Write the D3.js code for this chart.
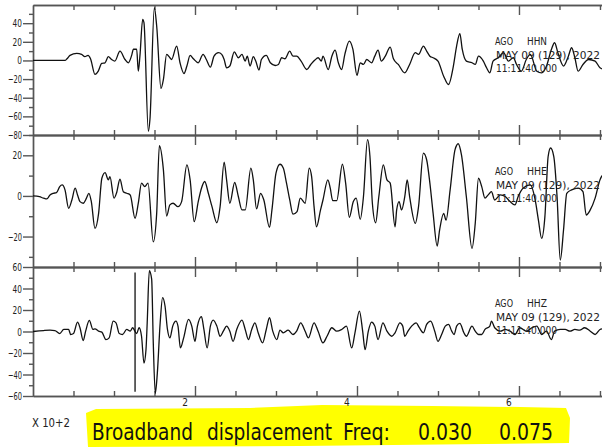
<!DOCTYPE html>
<html>
<head>
<meta charset="utf-8">
<script src="https://cdn.jsdelivr.net/npm/d3@7"></script>
<style>
body { margin: 0; background: #fff; }
svg { display: block; }
text { font-family: 'Liberation Sans Narrow', 'DejaVu Sans Condensed', 'Liberation Sans', sans-serif; }
</style>
</head>
<body>
<svg width="602" height="448"></svg>
<script>
// seismogram samples: [time (x100 s), amplitude]
var hhn = [[0,0],[0.395,0],[0.42,1.8],[0.457,5.4],[0.54,7.5],[0.60,6.5],[0.64,4],[0.68,5.4],[0.71,1.8],[0.765,-15],[0.806,-11.5],[0.848,-3.2],[0.889,-2.5],[0.93,4],[0.97,1],[1.01,-0.7],[1.074,10],[1.136,1],[1.177,-2.5],[1.218,5.4],[1.24,12],[1.28,12],[1.30,-11.5],[1.32,4.6],[1.354,44],[1.37,40.5],[1.424,-76],[1.444,-63],[1.498,56.6],[1.527,37],[1.58,-30],[1.61,-20.4],[1.65,6.5],[1.69,2.9],[1.71,1],[1.774,15.4],[1.815,-2.5],[1.864,-14],[1.90,-6],[1.94,5.4],[1.98,1.8],[2.04,-2.5],[2.10,6.5],[2.14,1],[2.19,-7.2],[2.235,4.6],[2.29,8.3],[2.33,6.5],[2.36,1],[2.39,-7.9],[2.43,-6],[2.485,9.3],[2.535,2.9],[2.58,6.5],[2.62,-0.7],[2.645,4.6],[2.68,-6],[2.72,4],[2.75,-0.7],[2.79,-10.4],[2.82,1],[2.88,5.4],[2.93,-2.5],[2.99,-5.4],[3.03,-4.3],[3.07,2.9],[3.11,1.8],[3.17,10],[3.21,4.6],[3.255,4.6],[3.31,-0.7],[3.38,-9.7],[3.43,-4.3],[3.48,0.4],[3.52,2.9],[3.56,-0.7],[3.58,4.6],[3.645,-9.7],[3.69,4.6],[3.73,11],[3.77,-2.5],[3.81,-9.7],[3.85,6.5],[3.905,20.8],[3.95,11.8],[4.00,-16],[4.04,-2.5],[4.08,-4.3],[4.12,1],[4.18,-2.5],[4.22,4.6],[4.26,11],[4.30,-0.7],[4.35,4.6],[4.41,14.3],[4.45,1.8],[4.51,-4.3],[4.59,-13.3],[4.65,-4.3],[4.72,8.3],[4.76,6.5],[4.82,15.4],[4.86,10],[4.90,4.6],[4.94,2.9],[5.00,-0.7],[5.07,-16.9],[5.13,-25.8],[5.19,-6],[5.23,15.4],[5.27,28.7],[5.30,11.8],[5.35,-0.7],[5.42,-2.5],[5.46,-4.3],[5.50,4.6],[5.56,-0.7],[5.60,-7.9],[5.64,-13.3],[5.68,-0.7],[5.745,2.9],[5.81,8.3],[5.87,-0.7],[5.93,2.9],[5.97,-4.3],[6.03,-11.5],[6.09,1],[6.14,6.5],[6.22,-11.5],[6.28,-13.3],[6.34,-6],[6.40,11.8],[6.44,19],[6.48,8.3],[6.55,-6],[6.61,4.6],[6.65,13.6],[6.69,2.9],[6.73,-11.5],[6.79,-4.3],[6.86,1],[6.94,-0.7],[7.00,-7.9],[7.025,-9]];

var hhe = [[0,0],[0.08,-0.4],[0.13,-1.1],[0.17,-1.5],[0.21,0.5],[0.25,1.3],[0.29,1.6],[0.33,4.6],[0.36,5.4],[0.395,3],[0.44,-6.1],[0.48,-2],[0.52,3.8],[0.55,0.5],[0.58,-2.8],[0.62,-3.6],[0.66,-1.1],[0.69,1.3],[0.72,-2.8],[0.765,-16],[0.81,-8.6],[0.85,8.7],[0.89,11.5],[0.93,7.9],[0.95,9.5],[1.00,-1.1],[1.03,1.3],[1.074,8.2],[1.115,2.1],[1.157,1.3],[1.20,0.5],[1.26,-11],[1.30,-3.6],[1.34,6.3],[1.38,4.6],[1.42,6.3],[1.485,-22.6],[1.527,-8.6],[1.56,24.7],[1.61,12.8],[1.65,-9.9],[1.69,-4.4],[1.73,-3.6],[1.79,-5.3],[1.835,-2.8],[1.90,15.3],[1.94,7.9],[1.99,-12.7],[2.04,-2.8],[2.08,3.8],[2.12,7.1],[2.165,1.3],[2.21,-5.3],[2.27,-13.2],[2.31,-5.3],[2.36,16.6],[2.39,7.9],[2.43,-3.6],[2.49,6.6],[2.535,-0.3],[2.58,-6.9],[2.62,-6.9],[2.69,13.7],[2.72,7.9],[2.76,-6.4],[2.81,1.3],[2.85,-2],[2.92,-15.5],[2.95,-6.9],[3.00,11.2],[3.05,15.6],[3.09,13.7],[3.13,6.3],[3.17,-2],[3.21,-9],[3.26,-7.7],[3.30,-1.1],[3.36,-3.6],[3.41,13.7],[3.44,9.5],[3.47,-5.3],[3.50,-15.2],[3.55,-6.9],[3.58,-2],[3.64,7.9],[3.67,3.8],[3.70,-2.3],[3.75,-2.3],[3.82,15.6],[3.86,6.3],[3.905,-10.5],[3.955,-2.8],[3.99,-1.1],[4.04,-11.5],[4.08,-0.3],[4.13,27.7],[4.16,19.4],[4.19,-3.6],[4.23,-13.2],[4.27,-0.3],[4.325,15.3],[4.37,7.9],[4.41,6.3],[4.47,-15.2],[4.49,-6.9],[4.52,-2.8],[4.55,-6.9],[4.59,-0.3],[4.62,7.9],[4.65,-0.3],[4.72,-13.5],[4.76,-5.3],[4.82,21.1],[4.86,17.8],[4.90,6.3],[4.94,-8.6],[4.99,-24.7],[5.02,-16.8],[5.07,-8.6],[5.10,-11.9],[5.15,3],[5.21,22.7],[5.25,25.7],[5.29,20.2],[5.35,-0.3],[5.42,-25.8],[5.46,-13.5],[5.50,8.7],[5.54,4.6],[5.58,-1.1],[5.62,0.5],[5.66,2.1],[5.70,-2],[5.77,0.5],[5.83,-0.3],[5.89,-2.8],[5.95,-4.4],[5.99,-0.3],[6.05,3.8],[6.14,5.4],[6.20,-2],[6.24,-11.9],[6.28,-20.9],[6.32,-10.2],[6.36,19.4],[6.39,23.6],[6.43,19.4],[6.47,-0.3],[6.51,-31.6],[6.55,-16.8],[6.59,1.3],[6.65,3],[6.73,3.8],[6.79,2.1],[6.83,-9.4],[6.88,-6.9],[6.94,-1.1],[7.00,7.9],[7.025,10]];

var hhz = [[0,0],[0.13,0.9],[0.21,1.2],[0.27,0.9],[0.33,-1.9],[0.38,1.9],[0.44,1.9],[0.465,-2.8],[0.50,-1.9],[0.55,8.7],[0.58,3.5],[0.62,-8.4],[0.65,0.3],[0.695,10.3],[0.74,1.9],[0.765,2.5],[0.81,0.3],[0.85,-0.6],[0.90,-7.5],[0.94,-5.9],[0.99,9.7],[1.025,8.1],[1.065,-1.9],[1.105,-2.8],[1.157,1.9],[1.20,0.3],[1.23,3.5],[1.28,-1.9],[1.31,3.5],[1.34,-4.4],[1.37,-29.4],[1.395,-16.9],[1.41,8.1],[1.436,56.5],[1.465,48.7],[1.485,-10.6],[1.51,-57.5],[1.535,-38.7],[1.57,8.1],[1.60,31.6],[1.63,23.7],[1.66,1.9],[1.69,-5.9],[1.725,5],[1.765,9.7],[1.79,5],[1.82,-15.3],[1.86,-5.9],[1.92,11.2],[1.96,5],[2.00,-9.1],[2.03,5],[2.08,13.8],[2.11,1.9],[2.15,-15.3],[2.19,5],[2.225,10.6],[2.27,5],[2.31,-4.4],[2.35,0.3],[2.39,5],[2.43,0.3],[2.47,-9.1],[2.515,1.9],[2.58,10.6],[2.62,1.9],[2.66,-7.5],[2.70,1.9],[2.74,8.1],[2.78,-1.2],[2.835,-10.6],[2.88,1.9],[2.92,12.8],[2.96,0.3],[3.01,-7.5],[3.05,1.2],[3.09,-1.2],[3.15,1.2],[3.21,-2.8],[3.255,0.3],[3.305,8.1],[3.36,0.3],[3.40,-5.9],[3.47,8.1],[3.52,0.3],[3.58,-10.6],[3.63,-4.4],[3.69,3.5],[3.75,0.3],[3.81,1.9],[3.87,5],[3.935,-15.3],[3.975,-1.2],[4.03,19],[4.07,0.3],[4.10,-16.9],[4.14,0.3],[4.18,8.7],[4.22,5],[4.26,-7.5],[4.32,8.1],[4.37,0.3],[4.43,-4.4],[4.47,-1.2],[4.53,8.1],[4.565,5],[4.59,-4.4],[4.63,0.3],[4.675,5],[4.73,8.1],[4.77,3.5],[4.82,-1.2],[4.86,6.6],[4.91,9.7],[4.96,0.3],[5.00,-9.1],[5.045,-2.8],[5.09,5],[5.13,6.6],[5.17,0.3],[5.20,-2.8],[5.23,5],[5.27,7.5],[5.32,-1.2],[5.35,-4.4],[5.42,5],[5.46,0.3],[5.50,-2.8],[5.54,-2.8],[5.58,1.9],[5.64,5],[5.66,9.7],[5.70,3.5],[5.77,0.3],[5.83,1.9],[5.89,0.3],[5.95,-2.8],[6.01,3.5],[6.095,0.3],[6.16,3.5],[6.22,5],[6.28,-2.8],[6.34,0.3],[6.40,-7.5],[6.44,0.3],[6.51,1.9],[6.57,1.9],[6.63,0.3],[6.69,1.9],[6.75,1.2],[6.81,3.5],[6.88,0.3],[6.94,-2.8],[7.00,1.9],[7.025,2.5]];

// pick marker drawn on the HHZ trace: [time, low, high]
var hhzPick = [1.26, -56, 55];

var station = "AGO";
var channels = ["HHN", "HHE", "HHZ"];
var dateLine = "MAY 09 (129), 2022";
var timeLine = "11:11:40.000";
var yDomains = [[-80, 59.5], [-35, 30], [-60, 60]];
var xDomain = [0, 7.025];
var xLabels = [2, 4, 6];
var xUnit = "X 10+2";
var caption = ["Broadband", "displacement", "Freq:", "0.030", "0.075"];

var svg = d3.select("svg");
var W = 602, left = 33;
var panelTop = [5, 135, 267], panelBot = [135, 267, 396];
var frameCol = "#555";

var x = d3.scaleLinear().domain(xDomain).range([left, W]);

// yellow marker highlight behind the caption
svg.append("path")
  .attr("d", "M86,413 L96,409 L250,408 L322,405 L432,406 L520,407 L566,408 L570,418 L569,443 L300,446 L88,447 Z")
  .attr("fill", "#ffff00");

var traces = [hhn, hhe, hhz];
var xMinor = d3.range(0.5, 7.01, 0.5).filter(function(t) { return t % 2 !== 0; });
var xMajor = [2, 4, 6];

traces.forEach(function(data, i) {
  var y = d3.scaleLinear().domain(yDomains[i]).range([panelBot[i], panelTop[i]]);
  var g = svg.append("g");

  // x ticks, inward from top and bottom edges
  [[xMinor, 5], [xMajor, 10]].forEach(function(p) {
    g.append("g").attr("transform", "translate(0," + panelTop[i] + ")")
      .call(d3.axisTop(x).tickValues(p[0]).tickSize(-p[1]).tickSizeOuter(0).tickFormat(""));
    g.append("g").attr("transform", "translate(0," + panelBot[i] + ")")
      .call(d3.axisBottom(x).tickValues(p[0]).tickSize(-p[1]).tickSizeOuter(0).tickFormat(""));
  });

  // y axis: minor every 10, labelled every 20
  var lo = yDomains[i][0], hi = yDomains[i][1];
  var yMajor = d3.range(Math.ceil(lo / 20) * 20, hi + 0.01, 20);
  var yMinor = d3.range(Math.ceil(lo / 10) * 10, hi + 0.01, 10).filter(function(v) { return v % 20 !== 0; });
  g.append("g").attr("transform", "translate(" + left + ",0)")
    .call(d3.axisLeft(y).tickValues(yMinor).tickSize(4).tickSizeOuter(0).tickFormat(""));
  var ya = g.append("g").attr("transform", "translate(" + left + ",0)")
    .call(d3.axisLeft(y).tickValues(yMajor).tickSize(10).tickSizeOuter(0).tickPadding(1));
  ya.selectAll("text")
    .attr("font-size", 11)
    .attr("fill", "#222")
    .attr("textLength", function() { return this.textContent.length * 4.7; })
    .attr("lengthAdjust", "spacingAndGlyphs");

  g.selectAll(".domain, .tick line").attr("stroke", frameCol).attr("stroke-width", 1.4);

  // the trace
  g.append("path").datum(data)
    .attr("d", d3.line()
      .x(function(d) { return x(d[0]); })
      .y(function(d) { return y(d[1]); })
      .curve(d3.curveMonotoneX))
    .attr("fill", "none")
    .attr("stroke", "#111")
    .attr("stroke-width", 1.3);

  if (i === 2) {
    g.append("line")
      .attr("x1", x(hhzPick[0])).attr("x2", x(hhzPick[0]))
      .attr("y1", y(hhzPick[1])).attr("y2", y(hhzPick[2]))
      .attr("stroke", "#111").attr("stroke-width", 1.3);
  }

  // station header
  var t0 = panelTop[i];
  var lab = [[station, 495, 40, 18], [channels[i], 527, 40, 20], [dateLine, 496, 53.5, 104], [timeLine, 496, 67, 61]];
  g.selectAll("text.hdr").data(lab).enter().append("text")
    .attr("class", "hdr")
    .attr("x", function(d) { return d[1]; })
    .attr("y", function(d) { return t0 + d[2]; })
    .attr("font-size", 11)
    .attr("fill", "#222")
    .attr("textLength", function(d) { return d[3]; })
    .attr("lengthAdjust", "spacingAndGlyphs")
    .text(function(d) { return d[0]; });
});

// time labels under the bottom panel (sit a little left of their ticks)
svg.append("g").selectAll("text").data(xLabels).enter().append("text")
  .attr("x", function(d) { return x(d) - 10; })
  .attr("y", 406)
  .attr("text-anchor", "middle")
  .attr("font-size", 10)
  .attr("fill", "#222")
  .text(function(d) { return d; });

svg.append("text")
  .attr("x", 32).attr("y", 427)
  .attr("font-size", 12)
  .attr("fill", "#222")
  .attr("textLength", 38)
  .attr("lengthAdjust", "spacingAndGlyphs")
  .text(xUnit);

// caption: one text line, each word placed and squeezed to its width
var capX = [92, 207, 343, 418, 499];
var capW = [101, 125, 47, 54, 54];
svg.append("text")
  .attr("y", 440)
  .attr("font-size", 23)
  .attr("fill", "#111")
  .selectAll("tspan").data(caption).enter().append("tspan")
  .attr("x", function(d, i) { return capX[i]; })
  .attr("textLength", function(d, i) { return capW[i]; })
  .attr("lengthAdjust", "spacingAndGlyphs")
  .text(function(d) { return d; });
</script>
</body>
</html>
